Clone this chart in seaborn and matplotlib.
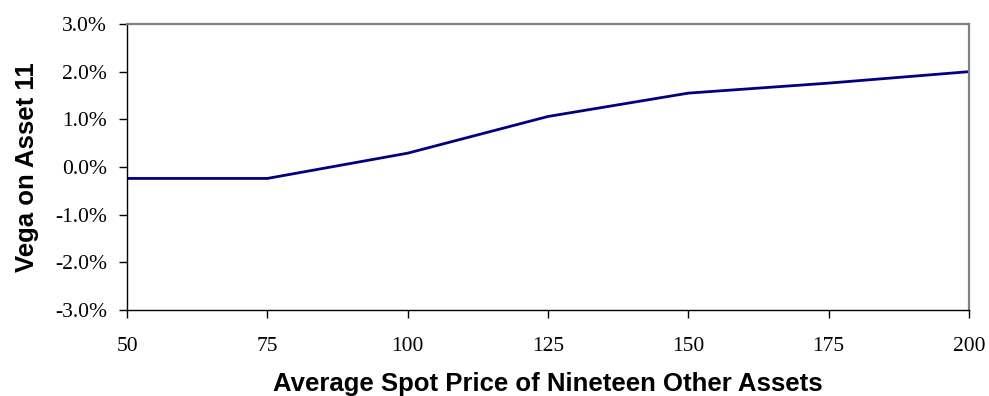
import matplotlib
matplotlib.use("Agg")
import matplotlib.pyplot as plt
import seaborn as sns
import pandas as pd
from matplotlib.ticker import FuncFormatter, MultipleLocator

spot_price = [50, 75, 100, 125, 150, 175, 200]
vega = [-0.24, -0.24, 0.29, 1.06, 1.55, 1.76, 2.0]
y_ticks = [-3, -2, -1, 0, 1, 2, 3]

sns.set_style("white")
plt.rcParams["text.color"] = "black"
plt.rcParams["axes.labelcolor"] = "black"
plt.rcParams["xtick.color"] = "black"
plt.rcParams["ytick.color"] = "black"
df = pd.DataFrame({"spot": spot_price, "vega": vega})

fig = plt.figure(figsize=(9.89, 3.96), dpi=100)
ax = fig.add_axes([127/989, 1-310/396, (969-127)/989, (310-24)/396])
sns.lineplot(data=df, x="spot", y="vega", ax=ax, color="#000080", linewidth=2.0)

ax.set_xlim(50, 200)
ax.set_ylim(-3, 3)
ax.xaxis.set_major_locator(MultipleLocator(25))
ax.set_yticks(y_ticks)
ax.yaxis.set_major_formatter(FuncFormatter(lambda v, p: f"{v:.1f}%"))

for s in ["top", "right"]:
    ax.spines[s].set_color("#808080")
    ax.spines[s].set_linewidth(1.6)
for s in ["left", "bottom"]:
    ax.spines[s].set_color("#000000")
    ax.spines[s].set_linewidth(1.0)

ax.tick_params(axis="both", which="major", direction="out", length=5.5, width=1,
               color="black", labelsize=15.5, bottom=True, left=True)
for lbl in ax.get_xticklabels() + ax.get_yticklabels():
    lbl.set_fontfamily("Liberation Serif")
ax.tick_params(axis="x", pad=14)
ax.tick_params(axis="y", pad=9)

ax.set_xlabel("Average Spot Price of Nineteen Other Assets", fontsize=18.5,
              fontweight="bold", fontfamily="Liberation Sans")
ax.set_ylabel("Vega on Asset 11", fontsize=18.5, fontweight="bold",
              fontfamily="Liberation Sans")
ax.xaxis.set_label_coords(0.5, (310-372)/286)
ax.yaxis.set_label_coords((39-127)/842, 0.5)

fig.savefig("out.png", dpi=100)
